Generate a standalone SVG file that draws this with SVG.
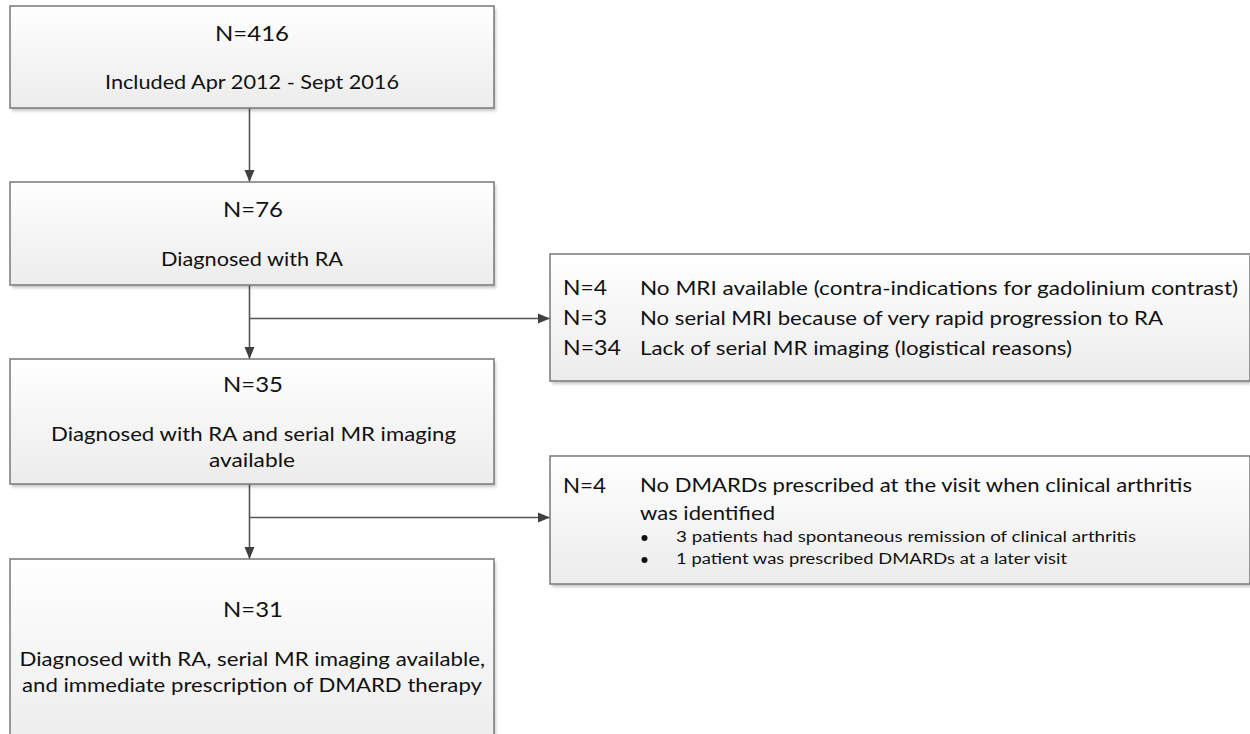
<svg xmlns="http://www.w3.org/2000/svg" width="1250" height="734" viewBox="0 0 1250 734">
<style>
.box{fill:url(#g);stroke:#808080;stroke-width:1.6}
.sh{fill:#000;opacity:0.22;filter:url(#blur)}
text{font-family:Lato,"Open Sans","Liberation Sans",sans-serif;fill:#111}
.big{font-size:22px}
.mid{font-size:19px}
.sm{font-size:15.5px}
.ln{stroke:#555;stroke-width:1.6;fill:none}
</style>
<defs>
<linearGradient id="g" x1="0" y1="0" x2="0" y2="1">
<stop offset="0" stop-color="#ffffff"/>
<stop offset="1" stop-color="#ececec"/>
</linearGradient>
<filter id="blur" x="-5%" y="-5%" width="110%" height="120%"><feGaussianBlur stdDeviation="1.5"/></filter>
<marker id="ah" viewBox="0 0 12 12" refX="12" refY="6" markerWidth="12" markerHeight="12" markerUnits="userSpaceOnUse" orient="auto">
<path d="M0,1 L12,6 L0,11 Z" fill="#404040"/>
</marker>
</defs>

<g id="connectors">
<line class="ln" x1="249.5" y1="108" x2="249.5" y2="182" marker-end="url(#ah)"/>
<line class="ln" x1="249.5" y1="285" x2="249.5" y2="359" marker-end="url(#ah)"/>
<line class="ln" x1="249.5" y1="318.5" x2="550" y2="318.5" marker-end="url(#ah)"/>
<line class="ln" x1="249.5" y1="484" x2="249.5" y2="559" marker-end="url(#ah)"/>
<line class="ln" x1="249.5" y1="517.5" x2="550" y2="517.5" marker-end="url(#ah)"/>
</g>

<g id="n416">
<rect class="sh" x="12" y="9" width="484" height="102"/>
<rect class="box" x="10" y="6" width="484" height="102"/>
<text class="big" x="215" y="41" textLength="74" lengthAdjust="spacingAndGlyphs">N=416</text>
<text class="mid" x="105" y="89" textLength="294" lengthAdjust="spacingAndGlyphs">Included Apr 2012 - Sept 2016</text>
</g>

<g id="n76">
<rect class="sh" x="12" y="185" width="484" height="103"/>
<rect class="box" x="10" y="182" width="484" height="103"/>
<text class="big" x="223" y="217" textLength="60" lengthAdjust="spacingAndGlyphs">N=76</text>
<text class="mid" x="161" y="266" textLength="182" lengthAdjust="spacingAndGlyphs">Diagnosed with RA</text>
</g>

<g id="n35">
<rect class="sh" x="12" y="362" width="484" height="125"/>
<rect class="box" x="10" y="359" width="484" height="125"/>
<text class="big" x="223" y="392" textLength="60" lengthAdjust="spacingAndGlyphs">N=35</text>
<text class="mid" x="51" y="441" textLength="405" lengthAdjust="spacingAndGlyphs">Diagnosed with RA and serial MR imaging</text>
<text class="mid" x="209" y="467" textLength="86" lengthAdjust="spacingAndGlyphs">available</text>
</g>

<g id="n31">
<rect class="sh" x="12" y="562" width="484" height="190"/>
<rect class="box" x="10" y="559" width="484" height="190"/>
<text class="big" x="223" y="617" textLength="60" lengthAdjust="spacingAndGlyphs">N=31</text>
<text class="mid" x="19.5" y="666" textLength="465.5" lengthAdjust="spacingAndGlyphs">Diagnosed with RA, serial MR imaging available,</text>
<text class="mid" x="22" y="692" textLength="460" lengthAdjust="spacingAndGlyphs">and immediate prescription of DMARD therapy</text>
</g>

<g id="excl1">
<rect class="sh" x="552" y="257" width="700" height="127"/>
<rect class="box" x="550" y="254" width="700" height="127"/>
<text class="big" x="563" y="295" textLength="44" lengthAdjust="spacingAndGlyphs">N=4</text>
<text class="mid" x="640" y="295" textLength="598" lengthAdjust="spacingAndGlyphs">No MRI available (contra-indications for gadolinium contrast)</text>
<text class="big" x="563" y="325" textLength="44" lengthAdjust="spacingAndGlyphs">N=3</text>
<text class="mid" x="640" y="325" textLength="523" lengthAdjust="spacingAndGlyphs">No serial MRI because of very rapid progression to RA</text>
<text class="big" x="563" y="355" textLength="58" lengthAdjust="spacingAndGlyphs">N=34</text>
<text class="mid" x="640" y="355" textLength="432" lengthAdjust="spacingAndGlyphs">Lack of serial MR imaging (logistical reasons)</text>
</g>

<g id="excl2">
<rect class="sh" x="552" y="459" width="700" height="128"/>
<rect class="box" x="550" y="456" width="700" height="128"/>
<text class="big" x="563" y="493" textLength="43" lengthAdjust="spacingAndGlyphs">N=4</text>
<text class="mid" x="640" y="492" textLength="552" lengthAdjust="spacingAndGlyphs">No DMARDs prescribed at the visit when clinical arthritis</text>
<text class="mid" x="640" y="520" textLength="135" lengthAdjust="spacingAndGlyphs">was identified</text>
<circle cx="644.5" cy="538" r="3" fill="#111"/>
<text class="sm" x="676" y="542" textLength="460" lengthAdjust="spacingAndGlyphs">3 patients had spontaneous remission of clinical arthritis</text>
<circle cx="644.5" cy="560" r="3" fill="#111"/>
<text class="sm" x="676" y="564" textLength="391" lengthAdjust="spacingAndGlyphs">1 patient was prescribed DMARDs at a later visit</text>
</g>
</svg>
